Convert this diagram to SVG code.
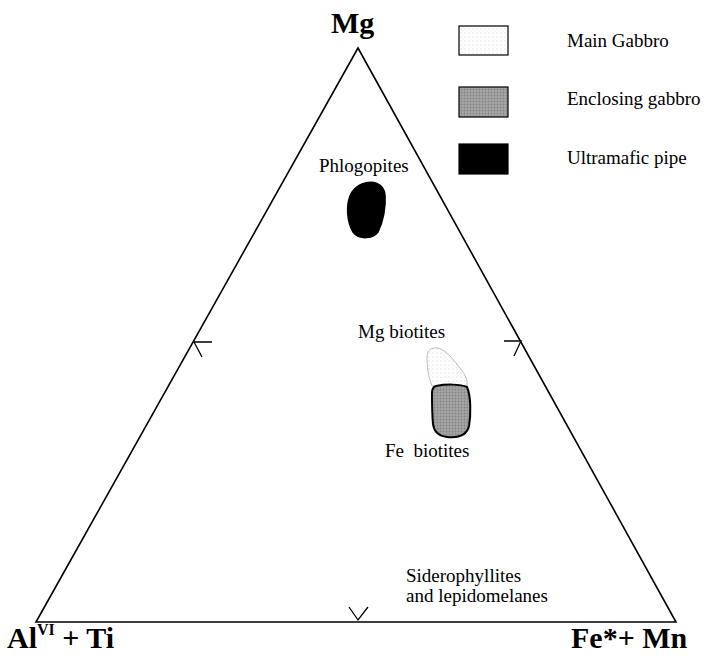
<svg xmlns="http://www.w3.org/2000/svg" width="704" height="656" viewBox="0 0 704 656">
<defs>
<pattern id="dots" width="4" height="4" patternUnits="userSpaceOnUse">
<rect width="4" height="4" fill="#fff"/>
<circle cx="1" cy="1" r="0.5" fill="#bbb"/>
<circle cx="3" cy="3" r="0.4" fill="#ddd"/>
</pattern>
<pattern id="gray" width="3" height="3" patternUnits="userSpaceOnUse">
<rect width="3" height="3" fill="#9a9a9a"/>
<circle cx="1" cy="1" r="0.6" fill="#c4c4c4"/>
<circle cx="2.5" cy="2.2" r="0.5" fill="#777"/>
</pattern>
</defs>
<style>
.ax{fill:none;stroke:#000;stroke-width:1.6}
.tk{fill:none;stroke:#000;stroke-width:1.3}
.lab{font-family:"Liberation Serif",serif;font-size:19px;fill:#000;white-space:pre}
.big{font-family:"Liberation Serif",serif;font-size:30px;font-weight:bold;fill:#000}
</style>
<rect width="704" height="656" fill="#fff"/>
<g id="triangle">
<path class="ax" d="M36,622 L358,48 L676,622 Z"/>
</g>
<g id="connectors">
<path class="tk" d="M212,342 L194,342 L202,357"/>
<path class="tk" d="M504,341 L521,341 L514,356"/>
<path class="tk" d="M349,607 L358,620 L368,607"/>
</g>
<g id="apex-labels">
<text class="big" x="331" y="33">Mg</text>
<text class="big" x="7" y="648">Al<tspan font-size="16" dy="-13">VI</tspan><tspan dy="13"> + Ti</tspan></text>
<text class="big" x="571" y="648">Fe*+ Mn</text>
</g>
<g id="legend">
<rect x="459" y="26" width="49" height="29" fill="url(#dots)" stroke="#000" stroke-width="1.2"/>
<text class="lab" x="567" y="47">Main Gabbro</text>
<rect x="459" y="87" width="49" height="30" fill="url(#gray)" stroke="#000" stroke-width="1.2"/>
<text class="lab" x="567" y="105">Enclosing gabbro</text>
<rect x="459" y="144" width="49" height="30" fill="#000" stroke="#000" stroke-width="1.2"/>
<text class="lab" x="567" y="164">Ultramafic pipe</text>
</g>
<g id="phlogopites">
<text class="lab" x="319" y="172">Phlogopites</text>
<path d="M362,184 C372,180 384,183 385,195 C386,207 383,222 378,232 C373,239 359,240 353,232 C347,222 346,206 350,196 C353,189 357,186 362,184 Z" fill="#000" stroke="#000" stroke-width="1.5"/>
</g>
<g id="mg-biotites">
<text class="lab" x="358" y="338">Mg biotites</text>
<path d="M432,386 C428,376 427,366 427,357 C427,350 432,347 438,348 C446,350 454,360 460,368 C465,374 468,380 467,386 Z" fill="url(#dots)" stroke="#bbb" stroke-width="1"/>
</g>
<g id="fe-biotites">
<path d="M436,386 C446,384 460,384 467,387 C471,396 471,415 469,426 C467,435 458,438 447,437 C438,436 434,432 433,424 C432,414 432,402 432,393 C432,389 433,387 436,386 Z" fill="url(#gray)" stroke="#000" stroke-width="2"/>
<text class="lab" x="385" y="457">Fe  biotites</text>
</g>
<g id="siderophyllites">
<text class="lab" x="406" y="582">Siderophyllites</text>
<text class="lab" x="406" y="602">and lepidomelanes</text>
</g>
</svg>
